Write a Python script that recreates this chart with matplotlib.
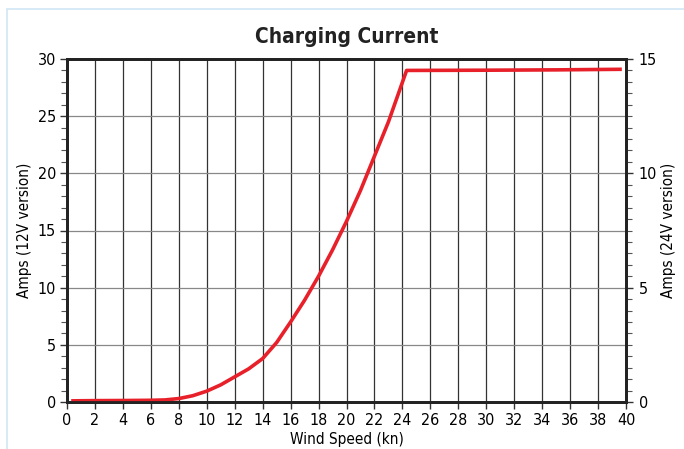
import numpy as np
import matplotlib.pyplot as plt
from matplotlib.patches import Rectangle

# Charging current curve (12V amps)
wind_kn = [0.3, 2, 4, 6, 7, 8, 9, 10, 11, 12, 13, 14, 15, 16, 17, 18, 19, 20, 21, 22, 23, 24.3, 30, 35, 39.7]
amps_12v = [0.1, 0.12, 0.13, 0.15, 0.18, 0.3, 0.55, 0.95, 1.5, 2.2, 2.9, 3.8, 5.2, 7.0, 8.9, 11.0, 13.3, 15.8, 18.5, 21.5, 24.5, 29.0, 29.02, 29.05, 29.1]

x_ticks = list(range(0, 41, 2))
y_ticks_12v = [0, 5, 10, 15, 20, 25, 30]
y_ticks_24v = [0, 5, 10, 15]

plt.rcParams['font.family'] = ['DejaVu Sans']
plt.rcParams['font.stretch'] = 'condensed'

fig = plt.figure(figsize=(6.84, 4.49), dpi=100)
ax = fig.add_axes([67 / 684, 1 - 402 / 449, (626 - 67) / 684, (402 - 59) / 449])

# light blue frame around the chart
fig.patches.append(Rectangle((7 / 684, -0.05), 1.0, 1 - 9 / 449 + 0.05, transform=fig.transFigure,
                             fill=False, edgecolor='#cfe6f5', linewidth=1.2))

ax.plot(wind_kn, amps_12v, color='#e8202a', linewidth=2.6, solid_capstyle='butt', zorder=3)

ax.set_xlim(0, 40)
ax.set_ylim(0, 30)
ax.set_xticks(x_ticks)
ax.set_yticks(y_ticks_12v)
ax.set_yticks(range(0, 31), minor=True)
ax.grid(axis='x', color='#333333', linewidth=0.9)
ax.grid(axis='y', which='major', color='#888888', linewidth=0.9)

for s in ax.spines.values():
    s.set_linewidth(2.0)
    s.set_color('#222222')

ax.tick_params(axis='both', which='major', labelsize=11.5, length=5, width=1, color='#333333', pad=3)
ax.tick_params(axis='y', which='minor', length=4, width=0.8, color='#555555')
ax.set_xlabel('Wind Speed (kn)', fontsize=11, labelpad=3)
ax.set_ylabel('Amps (12V version)', fontsize=11, labelpad=4)

ax2 = ax.twinx()
ax2.set_ylim(0, 15)
ax2.set_yticks(y_ticks_24v)
ax2.set_yticks(np.arange(0, 15.01, 0.5), minor=True)
ax2.tick_params(axis='y', which='major', labelsize=11.5, length=5, width=1, color='#333333', pad=4)
ax2.tick_params(axis='y', which='minor', length=4, width=0.8, color='#555555')
ax2.set_ylabel('Amps (24V version)', fontsize=11, rotation=90, va='center')
ax2.yaxis.set_label_coords((668 - 67) / 559, 0.5)
for s in ax2.spines.values():
    s.set_linewidth(2.0)
    s.set_color('#222222')

fig.text((67 + 626) / 2 / 684, 1 - 37 / 449, 'Charging Current', ha='center', va='center',
         fontsize=15, fontweight='bold', color='#222222')

fig.savefig('out.png', dpi=100)
